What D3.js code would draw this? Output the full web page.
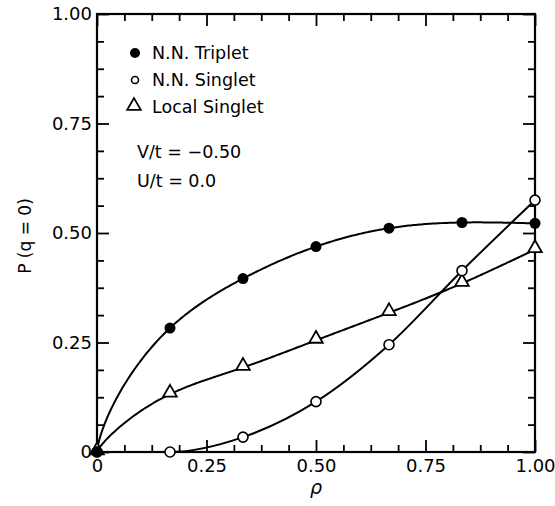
<!DOCTYPE html>
<html><head><meta charset="utf-8">
<script src="https://cdn.jsdelivr.net/npm/d3@7"></script>
<style>body{margin:0;background:#fff}text{font-family:"DejaVu Sans",sans-serif;fill:#000}</style>
</head><body><svg id="c" width="555" height="506"></svg>
<script>
const rho = [0, 1/6, 2/6, 3/6, 4/6, 5/6, 1];
const triplet = [0, 0.283, 0.396, 0.469, 0.511, 0.524, 0.522];
const singletNN = [0, 0.0, 0.034, 0.115, 0.245, 0.414, 0.575];
const singletLocal = [0, 0.132, 0.193, 0.255, 0.318, 0.385, 0.462];
const majorTicks = [0, 0.25, 0.5, 0.75, 1];
const tickLabels = ["0", "0.25", "0.50", "0.75", "1.00"];
const legendLabels = ["N.N. Triplet", "N.N. Singlet", "Local Singlet"];
const annotations = ["V/t = \u22120.50", "U/t = 0.0"];

const svg = d3.select("#c");
const x = d3.scaleLinear().domain([0, 1]).range([97, 535]);
const y = d3.scaleLinear().domain([0, 1]).range([452, 14]);
const minor = d3.range(0, 1.0001, 0.0625).filter(v => Math.abs(v*4 - Math.round(v*4)) > 1e-6);
const fmt = v => tickLabels[majorTicks.indexOf(v)];

// custom d3 curve: natural cubic spline drawn in a power-warped x space
function warpedNatural(scale, p) {
  return function(context) {
    return {
      areaStart() {}, areaEnd() {},
      lineStart() { this._px = []; this._py = []; },
      point(a, b) { this._px.push(a); this._py.push(b); },
      lineEnd() {
        const u = this._px.map(v => Math.pow(Math.max(scale.invert(v), 0), p));
        const Y = this._py, n = u.length - 1;
        const h = d3.range(n).map(i => u[i+1] - u[i]);
        const M = new Array(n + 1).fill(0);
        const a = [], b = [], c = [], r = [];
        for (let i = 1; i < n; i++) {
          a[i] = h[i-1]; b[i] = 2 * (h[i-1] + h[i]); c[i] = h[i];
          r[i] = 6 * ((Y[i+1] - Y[i]) / h[i] - (Y[i] - Y[i-1]) / h[i-1]);
        }
        for (let i = 2; i < n; i++) { const m = a[i] / b[i-1]; b[i] -= m * c[i-1]; r[i] -= m * r[i-1]; }
        for (let i = n - 1; i >= 1; i--) M[i] = (r[i] - c[i] * M[i+1]) / b[i];
        context.moveTo(this._px[0], Y[0]);
        for (let i = 0; i < n; i++) {
          for (let k = 1; k <= 40; k++) {
            const t = u[i] + h[i] * k / 40, hi = h[i];
            const s = M[i] * Math.pow(u[i+1] - t, 3) / (6*hi) + M[i+1] * Math.pow(t - u[i], 3) / (6*hi)
              + (Y[i]/hi - M[i]*hi/6) * (u[i+1] - t) + (Y[i+1]/hi - M[i+1]*hi/6) * (t - u[i]);
            context.lineTo(scale(Math.pow(t, 1/p)), s);
          }
        }
      }
    };
  };
}

function axes(gen, tr, vals, len, labels) {
  const a = gen.tickValues(vals).tickSizeInner(-len).tickSizeOuter(0).tickPadding(labels ? 5 : 0)
    .tickFormat(labels ? fmt : () => "");
  const g = svg.append("g").attr("transform", tr).call(a);
  g.select(".domain").remove();
  g.selectAll("line").attr("stroke", "#000").attr("stroke-width", 1.8);
  g.selectAll("text").style("font-size", "18px").attr("font-family", null);
  return g;
}
axes(d3.axisBottom(x), `translate(0,${y(0)})`, minor, 7, false);
axes(d3.axisBottom(x), `translate(0,${y(0)})`, majorTicks, 12, true).selectAll("text").attr("dy", "0.85em");
axes(d3.axisTop(x), `translate(0,${y(1)})`, minor, 7, false);
axes(d3.axisTop(x), `translate(0,${y(1)})`, majorTicks, 12, false);
axes(d3.axisLeft(y), `translate(${x(0)},0)`, minor, 7, false);
axes(d3.axisLeft(y), `translate(${x(0)},0)`, majorTicks, 12, true);
axes(d3.axisRight(y), `translate(${x(1)},0)`, minor, 7, false);
axes(d3.axisRight(y), `translate(${x(1)},0)`, majorTicks, 12, false);

svg.append("rect").attr("x", x(0)).attr("y", y(1)).attr("width", x(1)-x(0)).attr("height", y(0)-y(1))
  .attr("fill", "none").attr("stroke", "#000").attr("stroke-width", 2.2);

const mk = c => d3.line().x((d, i) => x(rho[i])).y(d => y(d)).curve(c);
[[triplet, warpedNatural(x, 0.7)], [singletNN, d3.curveMonotoneX], [singletLocal, warpedNatural(x, 0.8)]].forEach(([s, c]) => {
  svg.append("path").attr("d", mk(c)(s)).attr("fill", "none").attr("stroke", "#000").attr("stroke-width", 2);
});

const tri = d3.symbol().type(d3.symbolTriangle).size(80);
svg.selectAll(".tl").data(singletLocal).join("path")
  .attr("transform", (d, i) => `translate(${x(rho[i])},${y(d) - 1.5})`)
  .attr("d", tri).attr("fill", "#fff").attr("stroke", "#000").attr("stroke-width", 1.8);
svg.selectAll(".sn").data(singletNN).join("circle")
  .attr("cx", (d, i) => x(rho[i])).attr("cy", d => y(d)).attr("r", 5)
  .attr("fill", "#fff").attr("stroke", "#000").attr("stroke-width", 1.6);
svg.selectAll(".tp").data(triplet).join("circle")
  .attr("cx", (d, i) => x(rho[i])).attr("cy", d => y(d)).attr("r", 5.5).attr("fill", "#000");

// legend
const lg = svg.append("g");
const ly = [53, 80, 107];
lg.append("circle").attr("cx", 135).attr("cy", ly[0]).attr("r", 5).attr("fill", "#000");
lg.append("circle").attr("cx", 135).attr("cy", ly[1]).attr("r", 3.5).attr("fill", "#fff").attr("stroke", "#000").attr("stroke-width", 1.6);
lg.append("path").attr("transform", `translate(134,${ly[2]-1})`).attr("d", tri).attr("fill", "#fff").attr("stroke", "#000").attr("stroke-width", 1.8);
lg.selectAll("text").data(legendLabels).join("text")
  .attr("x", 152).attr("y", (d, i) => ly[i]).attr("dy", "0.36em").style("font-size", "17.5px").text(d => d);

svg.selectAll(".ann").data(annotations).join("text")
  .attr("x", 137).attr("y", (d, i) => [152, 181][i]).attr("dy", "0.36em").style("font-size", "17.5px").text(d => d);

svg.append("text").attr("transform", `translate(31,236) rotate(-90)`).attr("text-anchor", "middle")
  .style("font-size", "17px").text("P (q = 0)");
svg.append("text").attr("x", x(0.5)).attr("y", 494).attr("text-anchor", "middle")
  .style("font-size", "19px").style("font-style", "italic").text("\u03c1");
</script></body></html>
